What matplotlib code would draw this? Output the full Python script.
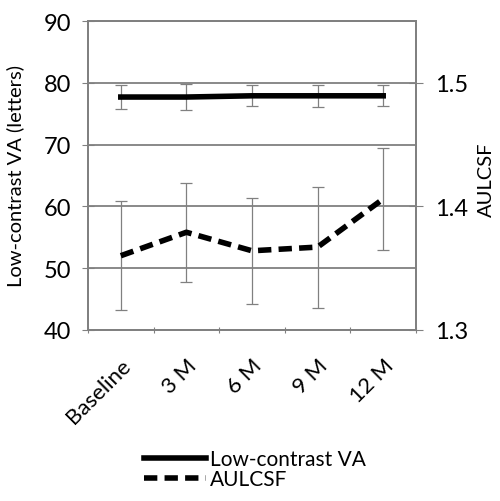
import numpy as np
import matplotlib
matplotlib.use('Agg')
import matplotlib.pyplot as plt

plt.rcParams['font.family'] = ['Lato', 'DejaVu Sans']

# categories
labels = ['Baseline', '3 M', '6 M', '9 M', '12 M']

# low-contrast VA (letters), left axis
va_mean = [77.7, 77.7, 77.9, 77.9, 77.9]
va_err = [1.9, 2.1, 1.7, 1.8, 1.7]

# AULCSF, right axis
csf_mean = [1.360, 1.379, 1.364, 1.367, 1.406]
csf_err = [0.044, 0.040, 0.043, 0.049, 0.041]

x = np.arange(len(labels))
grid_col = '#808080'

fig = plt.figure(figsize=(5.0, 5.02), dpi=100)
ax = fig.add_axes([0.176, 0.341, 0.656, 0.615])
ax2 = ax.twinx()

ax.errorbar(x, va_mean, yerr=va_err, fmt='none', ecolor=grid_col,
            elinewidth=0.9, capsize=4, capthick=0.9, zorder=3)
ax.plot(x, va_mean, color='black', lw=4, zorder=4, label='Low-contrast VA')

ax2.errorbar(x, csf_mean, yerr=csf_err, fmt='none', ecolor=grid_col,
             elinewidth=0.9, capsize=4, capthick=0.9, zorder=3)
ax2.plot(x, csf_mean, color='black', lw=4, ls=(0, (2.4, 1.3)),
         zorder=4, label='AULCSF')

ax.set_xlim(-0.5, 4.5)
ax.set_ylim(40, 90)
ax.set_yticks([40, 50, 60, 70, 80, 90])
ax2.set_ylim(1.3, 1.55)
ax2.set_yticks([1.3, 1.4, 1.5])

ax.grid(axis='y', color=grid_col, lw=1.3)
ax.set_axisbelow(True)
ax.set_xticks(np.arange(-0.5, 5, 1), minor=False)
ax.set_xticklabels([])
ax.set_xticks(x, minor=True)
ax.set_xticklabels(labels, minor=True, rotation=45, ha='right',
                   rotation_mode='anchor', fontsize=16)
ax.tick_params(axis='x', which='minor', length=0, pad=18)
ax.tick_params(axis='x', which='major', length=5, direction='inout',
               color=grid_col)
ax.tick_params(axis='y', length=8, direction='inout', color=grid_col,
               labelsize=17, pad=8)
ax2.tick_params(axis='y', length=10, direction='inout', color=grid_col,
                labelsize=17, pad=9)

for a in (ax, ax2):
    for s in a.spines.values():
        s.set_color(grid_col)
        s.set_linewidth(1.3)

ax.set_ylabel('Low-contrast VA (letters)', fontsize=14.5)
ax.yaxis.set_label_coords(-0.195, 0.5)
ax2.set_ylabel('AULCSF', fontsize=14.5)
ax2.yaxis.set_label_coords(1.19, 0.49)

h1, l1 = ax.get_legend_handles_labels()
h2, l2 = ax2.get_legend_handles_labels()
fig.legend(h1 + h2, l1 + l2, loc='center', bbox_to_anchor=(0.51, 0.063),
           frameon=False, fontsize=15, handlelength=3.0, handletextpad=0.2,
           labelspacing=0.0)

fig.savefig('out.png', dpi=100)
